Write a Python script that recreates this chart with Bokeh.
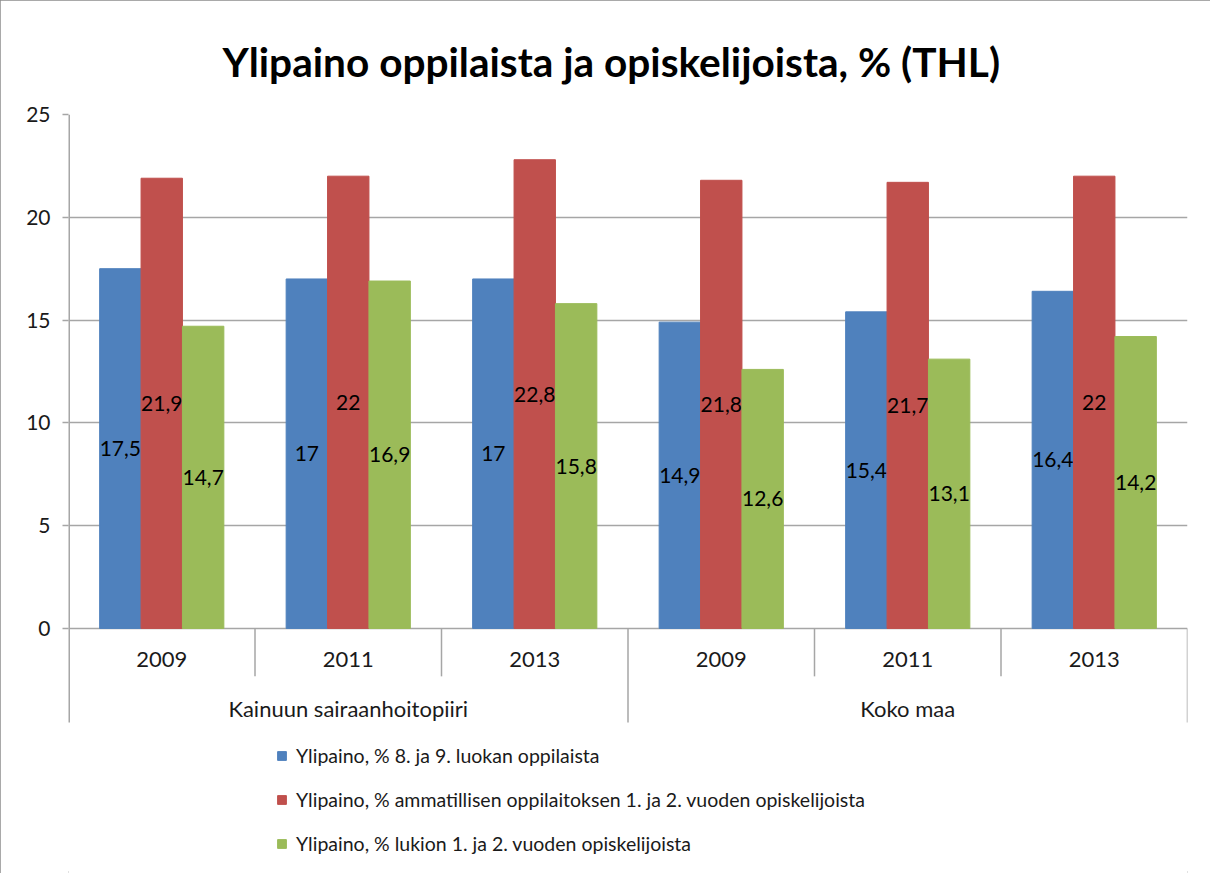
from bokeh.plotting import figure
from bokeh.models import (Range1d, FixedTicker, Title, Legend, LegendItem, ColumnDataSource)
from bokeh.core.properties import value
from bokeh.embed import file_html
from bokeh.resources import INLINE
import numpy as np

groups = ["Kainuun sairaanhoitopiiri", "Koko maa"]
years = ["2009", "2011", "2013", "2009", "2011", "2013"]
series_names = [
    "Ylipaino, % 8. ja 9. luokan oppilaista",
    "Ylipaino, % ammatillisen oppilaitoksen 1. ja 2. vuoden opiskelijoista",
    "Ylipaino, % lukion 1. ja 2. vuoden opiskelijoista",
]
blue_vals = [17.5, 17, 17, 14.9, 15.4, 16.4]
red_vals = [21.9, 22, 22.8, 21.8, 21.7, 22]
green_vals = [14.7, 16.9, 15.8, 12.6, 13.1, 14.2]
y_ticks = [0, 5, 10, 15, 20, 25]

colors = ["#4F81BD", "#C0504D", "#9BBB59"]
FONT = "Lato"
GRID = "#A6A6A6"
Y_BOTTOM = -11.92   # frame extends down to include the category axis and legend area
AXIS_END = -4.57

p = figure(width=1210, height=873, output_backend="svg", toolbar_location=None,
           x_range=Range1d(0, 6), y_range=Range1d(Y_BOTTOM, 25),
           min_border_left=68, min_border_right=23, min_border_top=114,
           min_border_bottom=0)
p.outline_line_color = None
p.xaxis.visible = False
p.xgrid.visible = False
p.ygrid.ticker = FixedTicker(ticks=y_ticks)
p.ygrid.grid_line_color = GRID
p.ygrid.grid_line_width = 1.5
p.yaxis.ticker = FixedTicker(ticks=y_ticks)
p.yaxis.axis_line_color = None
p.yaxis.major_tick_line_color = GRID
p.yaxis.major_tick_line_width = 1.5
p.yaxis.major_tick_out = 6
p.yaxis.major_tick_in = 0
p.yaxis.minor_tick_line_color = None
p.yaxis.major_label_text_font = FONT
p.yaxis.major_label_text_font_size = "21px"
p.yaxis.major_label_text_color = "#1a1a1a"
p.yaxis.major_label_standoff = 12

title = Title(text="Ylipaino oppilaista ja opiskelijoista, % (THL)", align="left",
              text_font=FONT, text_font_size="40.6px", text_font_style="bold",
              text_color="#000000", standoff=58, offset=154)
p.add_layout(title, "above")

xc = np.arange(len(years)) + 0.5
bw = 0.222
offsets = [-bw, 0, bw]


def fmt(v):
    return str(int(v)) if v == int(v) else str(v).replace(".", ",")


renderers = []
for vals, col, off in zip([blue_vals, red_vals, green_vals], colors, offsets):
    src = ColumnDataSource(dict(x=xc + off, top=vals, mid=[v / 2 for v in vals],
                                lab=[fmt(v) for v in vals]))
    r = p.vbar(x="x", top="top", bottom=0, width=bw, source=src, fill_color=col,
               line_color=col)
    renderers.append(r)
    p.text(x="x", y="mid", text="lab", source=src, text_align="center",
           text_baseline="middle", text_font=value(FONT), text_font_size="21px",
           text_color="#000000")

# value axis line
p.segment(x0=[0], y0=[AXIS_END], x1=[0], y1=[25], line_color=GRID, line_width=3)

# category axis (two levels) below zero
p.text(x=xc, y=[-1.5] * len(years), text=years, text_align="center",
       text_baseline="middle", text_font=value(FONT), text_font_size="22px",
       text_color="#1a1a1a")
p.text(x=[1.5, 4.5], y=[-3.9, -3.9], text=groups, text_align="center",
       text_baseline="middle", text_font=value(FONT), text_font_size="22px",
       text_color="#1a1a1a")
inner = [1, 2, 4, 5]
p.segment(x0=inner, y0=[0] * 4, x1=inner, y1=[-2.33] * 4, line_color=GRID, line_width=1.5)
outer = [3, 6]
p.segment(x0=outer, y0=[0] * 2, x1=outer, y1=[AXIS_END] * 2, line_color=GRID, line_width=1.5)

legend = Legend(items=[LegendItem(label=n, renderers=[r]) for n, r in zip(series_names, renderers)],
                location=(208, 18), orientation="vertical",
                glyph_width=11, glyph_height=11, label_standoff=9,
                label_height=20, spacing=21, padding=0, margin=0,
                label_text_font=FONT, label_text_font_size="19.5px",
                label_text_color="#1a1a1a", border_line_color=None,
                background_fill_alpha=0)
p.add_layout(legend, "center")

p.styles = {"outline": "2px solid #8C8C8C", "outline-offset": "-2px"}

open("out.html", "w").write(file_html(p, INLINE))
